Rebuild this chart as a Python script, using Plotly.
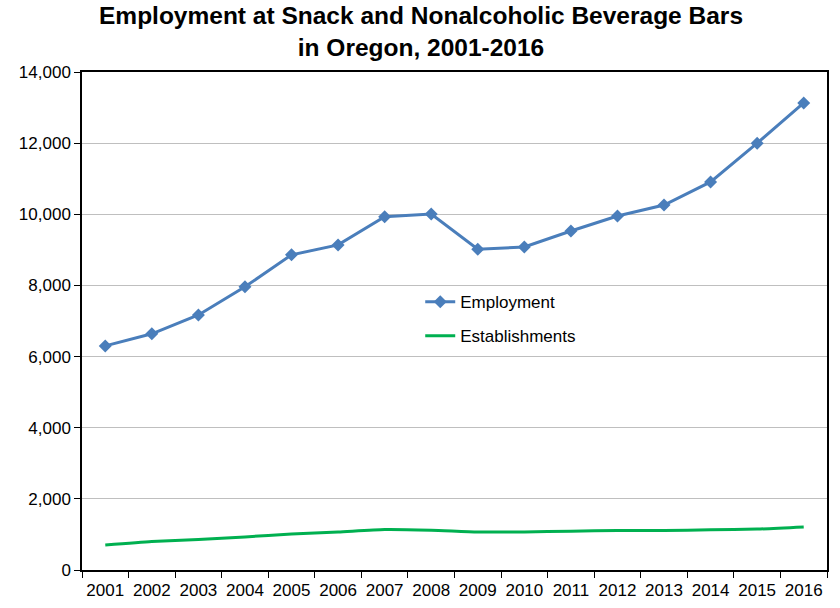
import plotly.graph_objects as go

years = [str(y) for y in range(2001, 2017)]
employment = [6300, 6640, 7170, 7960, 8860, 9140, 9930, 10010, 9020, 9080,
              9530, 9950, 10260, 10910, 12000, 13130]
establishments = [700, 800, 860, 930, 1010, 1070, 1140, 1120, 1070, 1070,
                  1090, 1110, 1110, 1130, 1150, 1210]
y_ticks = [0, 2000, 4000, 6000, 8000, 10000, 12000, 14000]
title_text = "<b>Employment at Snack and Nonalcoholic Beverage Bars<br>in Oregon, 2001-2016</b>"

blue = "#4A7EBB"
green = "#00B050"
font = "Liberation Sans, Arial, sans-serif"

fig = go.Figure()
fig.add_trace(go.Scatter(
    x=years, y=employment, name="Employment", mode="lines+markers",
    line=dict(color=blue, width=3),
    marker=dict(symbol="diamond", size=10, color=blue),
    legendgroup="a",
))
fig.add_trace(go.Scatter(
    x=years, y=establishments, name="Establishments", mode="lines",
    line=dict(color=green, width=3, shape="spline", smoothing=0.6),
    legendgroup="b",
))

fig.update_layout(
    width=840, height=608,
    margin=dict(l=82, r=13, t=72, b=38, autoexpand=False),
    paper_bgcolor="white", plot_bgcolor="white",
    font=dict(family=font, size=17, color="black"),
    legend=dict(
        x=0.454, y=0.574, xanchor="left", yanchor="top",
        bgcolor="rgba(0,0,0,0)", font=dict(size=17),
        tracegroupgap=9, traceorder="grouped", itemwidth=30,
    ),
    showlegend=True,
    annotations=[dict(
        text=title_text, xref="paper", yref="paper", x=0.455, y=1.0813,
        xanchor="center", yanchor="middle", showarrow=False, align="center",
        font=dict(family=font, size=24.5, color="black"),
    )],
)
fig.update_xaxes(
    type="category", categoryorder="array", categoryarray=years,
    range=[-0.5, len(years) - 0.5],
    tickson="boundaries", ticks="outside", ticklen=6, tickcolor="black",
    tickangle=0, automargin=False, ticklabelstandoff=4,
    showline=True, linecolor="black", linewidth=1.5, mirror=True,
    showgrid=False, tickfont=dict(size=17),
)
fig.update_yaxes(
    range=[0, 14000], tickvals=y_ticks, tickformat=",", automargin=False,
    ticks="outside", ticklen=6, tickcolor="black",
    showline=True, linecolor="black", linewidth=1.5, mirror=True,
    showgrid=True, gridcolor="#BFBFBF", gridwidth=1, zeroline=False,
    tickfont=dict(size=17),
)

fig.write_html(
    "out.html",
    config={"displayModeBar": False},
    post_script="document.body.style.margin='0';document.body.style.padding='0';",
)
